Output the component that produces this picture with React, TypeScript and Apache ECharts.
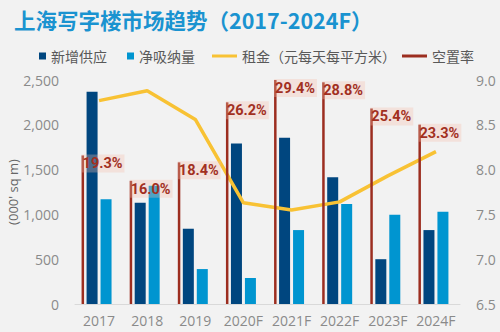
import { useEffect, useRef } from "react";
import * as echarts from "echarts";

const years = ["2017", "2018", "2019", "2020F", "2021F", "2022F", "2023F", "2024F"];
const newSupply = [2370, 1130, 840, 1790, 1855, 1415, 500, 825];
const netAbsorption = [1170, 1320, 390, 290, 825, 1115, 995, 1030];
const rent = [8.77, 8.88, 8.56, 7.63, 7.55, 7.64, 7.93, 8.2];
const vacancy = [19.3, 16.0, 18.4, 26.2, 29.4, 28.8, 25.4, 23.3];
const spacer = years.map(() => "-");

const LATIN = "'Open Sans', 'Noto Sans CJK SC', sans-serif";
const CJK = "'Noto Sans CJK SC', sans-serif";

export default function App() {
  const ref = useRef<HTMLDivElement>(null);
  useEffect(() => {
    if (!ref.current) return;
    const chart = echarts.init(ref.current, undefined, { renderer: "svg" });
    const legendText = { fontFamily: CJK, fontSize: 14, color: "#595959" };
    chart.setOption({
      animation: false,
      backgroundColor: "#f2f2f2",
      title: {
        text: "上海写字楼市场趋势（2017-2024F）",
        left: 9,
        top: 4,
        textStyle: { fontFamily: CJK, fontSize: 21.5, fontWeight: "bold", color: "#1a93d0" },
      },
      legend: [
        {
          data: ["新增供应", "净吸纳量"],
          left: 34,
          top: 44,
          itemWidth: 7,
          itemHeight: 7,
          itemGap: 20,
          icon: "rect",
          textStyle: legendText,
        },
        {
          data: ["租金（元每天每平方米）"],
          left: 207,
          top: 44,
          itemWidth: 25,
          itemHeight: 3,
          icon: "rect",
          textStyle: legendText,
        },
        {
          data: ["空置率"],
          left: 397,
          top: 44,
          itemWidth: 25,
          itemHeight: 3,
          icon: "rect",
          textStyle: legendText,
        },
      ],
      grid: { left: 75, right: 40, top: 80, bottom: 28, outerBoundsMode: "none" },
      xAxis: [
        {
          type: "category",
          data: years,
          axisLine: { lineStyle: { color: "#d9d9d9" } },
          axisTick: { show: false },
          axisLabel: { interval: 0, fontFamily: LATIN, fontSize: 14, color: "#8a8a8a", margin: 9 },
        },
        { type: "category", data: years, show: false },
      ],
      yAxis: [
        {
          type: "value",
          min: 0,
          max: 2500,
          interval: 500,
          name: "(000' sq m)",
          nameLocation: "middle",
          nameGap: 56,
          nameMoveOverlap: false,
          nameTextStyle: { fontFamily: LATIN, fontSize: 13, color: "#666666" },
          splitLine: { show: false },
          axisLabel: {
            fontFamily: LATIN,
            fontSize: 14,
            color: "#8a8a8a",
            margin: 16,
            formatter: (v: number) => v.toLocaleString("en-US"),
          },
        },
        {
          type: "value",
          min: 6.5,
          max: 9.0,
          interval: 0.5,
          splitLine: { show: false },
          axisLabel: {
            fontFamily: LATIN,
            fontSize: 14,
            color: "#8a8a8a",
            margin: 16,
            formatter: (v: number) => v.toFixed(1),
          },
        },
        { type: "value", min: 0, max: 29.1, show: false, splitLine: { show: false } },
      ],
      series: [
        {
          name: "新增供应",
          type: "bar",
          data: newSupply,
          barWidth: 11,
          barGap: "27%",
          itemStyle: { color: "#00467f" },
        },
        {
          name: "净吸纳量",
          type: "bar",
          data: netAbsorption,
          barWidth: 11,
          barGap: "27%",
          itemStyle: { color: "#0095d0" },
        },
        {
          name: "租金（元每天每平方米）",
          type: "line",
          yAxisIndex: 1,
          data: rent,
          symbol: "none",
          lineStyle: { color: "#f8c234", width: 3.5 },
          itemStyle: { color: "#f8c234" },
          z: 4,
        },
        {
          name: "空置率",
          type: "bar",
          xAxisIndex: 1,
          yAxisIndex: 2,
          data: vacancy,
          barWidth: 2.5,
          barGap: "0%",
          itemStyle: { color: "#9c2e20" },
          z: 5,
          label: {
            show: true,
            position: [0, -1],
            align: "left",
            verticalAlign: "top",
            formatter: (p: any) => Number(p.value).toFixed(1) + "%",
            fontFamily: "Roboto, sans-serif",
            fontSize: 14.5,
            fontWeight: "bold",
            color: "#a2301f",
            backgroundColor: "rgba(245,190,170,0.32)",
            padding: [2, 2, 1, 1],
          },
        },
        {
          name: "spacer",
          type: "bar",
          xAxisIndex: 1,
          yAxisIndex: 2,
          data: spacer,
          barWidth: 32.5,
          barGap: "0%",
          silent: true,
          itemStyle: { color: "rgba(0,0,0,0)" },
        },
      ],
    });
    return () => chart.dispose();
  }, []);
  return (
    <div
      ref={ref}
      style={{ position: "fixed", left: 0, top: 0, width: 500, height: 332 }}
    />
  );
}
